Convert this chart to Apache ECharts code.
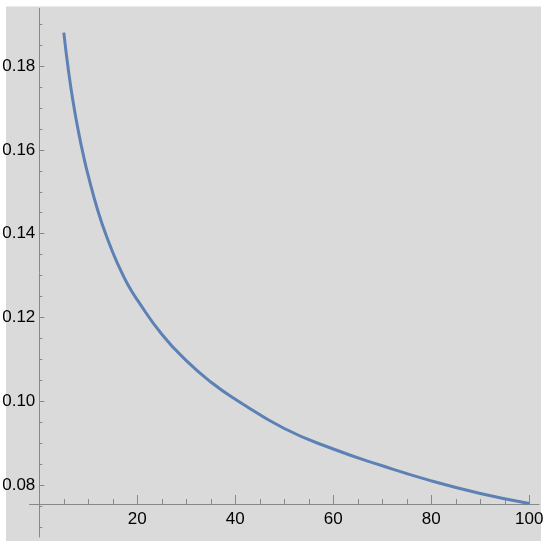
<!DOCTYPE html>
<html>
<head>
<meta charset="utf-8">
<script src="https://cdn.jsdelivr.net/npm/echarts@6/dist/echarts.min.js"></script>
<style>
  html, body { margin: 0; padding: 0; background: #fff; }
  #main { width: 550px; height: 548px; }
</style>
</head>
<body>
<div id="main"></div>
<script type="text/javascript">
    // values
    var xValues = [5, 6, 7, 8, 9, 10, 12, 14, 16, 18, 20, 25, 30, 35, 40, 50, 60, 70, 80, 90, 100];
    var yValues = [0.1880, 0.1785, 0.1708, 0.1643, 0.1587, 0.1538, 0.1453, 0.1385, 0.1328, 0.1280, 0.1242,
                   0.1160, 0.1097, 0.1046, 0.1005, 0.0935, 0.0886, 0.0846, 0.0810, 0.0780, 0.0756];

    var xTicks = [20, 40, 60, 80, 100];
    var yTicks = [0.08, 0.10, 0.12, 0.14, 0.16, 0.18];
    var xMinorTicks = [5, 10, 15, 25, 30, 35, 45, 50, 55, 65, 70, 75, 85, 90, 95];
    var yMinorTicks = [0.07, 0.075, 0.085, 0.09, 0.095, 0.105, 0.11, 0.115, 0.125, 0.13, 0.135,
                       0.145, 0.15, 0.155, 0.165, 0.17, 0.175, 0.185, 0.19];

    var points = xValues.map(function (x, i) { return [x, yValues[i]]; });

    var axisColor = '#888888';
    var labelFont = '"Liberation Sans", Arial, sans-serif';

    var chart = echarts.init(document.getElementById('main'));

    var option = {
        backgroundColor: '#ffffff',
        animation: false,
        graphic: [{
            type: 'rect',
            z: -10,
            shape: { x: 6, y: 6.5, width: 535, height: 534.5 },
            style: { fill: '#dadada' }
        }],
        grid: [
            // grid 0: the curve and the y axis (sits at x = 0)
            { left: 39.3, right: 10.9, top: 8.3, bottom: 11, outerBoundsMode: 'none' },
            // grid 1: the x axis, crossing at y = 0.0755
            { left: 29.5, right: 10.9, top: 8.3, bottom: 44, outerBoundsMode: 'none' }
        ],
        xAxis: [
            { gridIndex: 0, type: 'value', min: 0, max: 102, show: false },
            {
                gridIndex: 1, type: 'value', min: -2, max: 102, position: 'bottom',
                axisLine: { show: true, onZero: false, lineStyle: { color: axisColor, width: 1 } },
                axisTick: { show: true, inside: true, length: 9, customValues: xTicks,
                            lineStyle: { color: axisColor } },
                axisLabel: { show: true, customValues: xTicks, margin: 7, color: '#000',
                             fontFamily: labelFont, fontSize: 17 },
                splitLine: { show: false }
            },
            {
                gridIndex: 1, type: 'value', min: -2, max: 102, position: 'bottom',
                axisLine: { show: false, onZero: false },
                axisTick: { show: true, inside: true, length: 5, customValues: xMinorTicks,
                            lineStyle: { color: axisColor } },
                axisLabel: { show: false },
                splitLine: { show: false }
            }
        ],
        yAxis: [
            {
                gridIndex: 0, type: 'value', min: 0.0676, max: 0.1938, position: 'left',
                axisLine: { show: true, onZero: false, lineStyle: { color: axisColor, width: 1 } },
                axisTick: { show: true, inside: true, length: 5, customValues: yTicks,
                            lineStyle: { color: axisColor } },
                axisLabel: { show: true, customValues: yTicks, margin: 4, color: '#000',
                             fontFamily: labelFont, fontSize: 17,
                             formatter: function (v) { return v.toFixed(2); } },
                splitLine: { show: false }
            },
            { gridIndex: 1, type: 'value', min: 0, max: 1, show: false },
            {
                gridIndex: 0, type: 'value', min: 0.0676, max: 0.1938, position: 'left',
                axisLine: { show: false, onZero: false },
                axisTick: { show: true, inside: true, length: 3, customValues: yMinorTicks,
                            lineStyle: { color: axisColor } },
                axisLabel: { show: false },
                splitLine: { show: false }
            }
        ],
        series: [{
            type: 'line',
            xAxisIndex: 0,
            yAxisIndex: 0,
            data: points,
            smooth: 0.5,
            showSymbol: false,
            lineStyle: { color: '#5e81b5', width: 3 }
        }]
    };

    chart.setOption(option);
</script>
</body>
</html>
